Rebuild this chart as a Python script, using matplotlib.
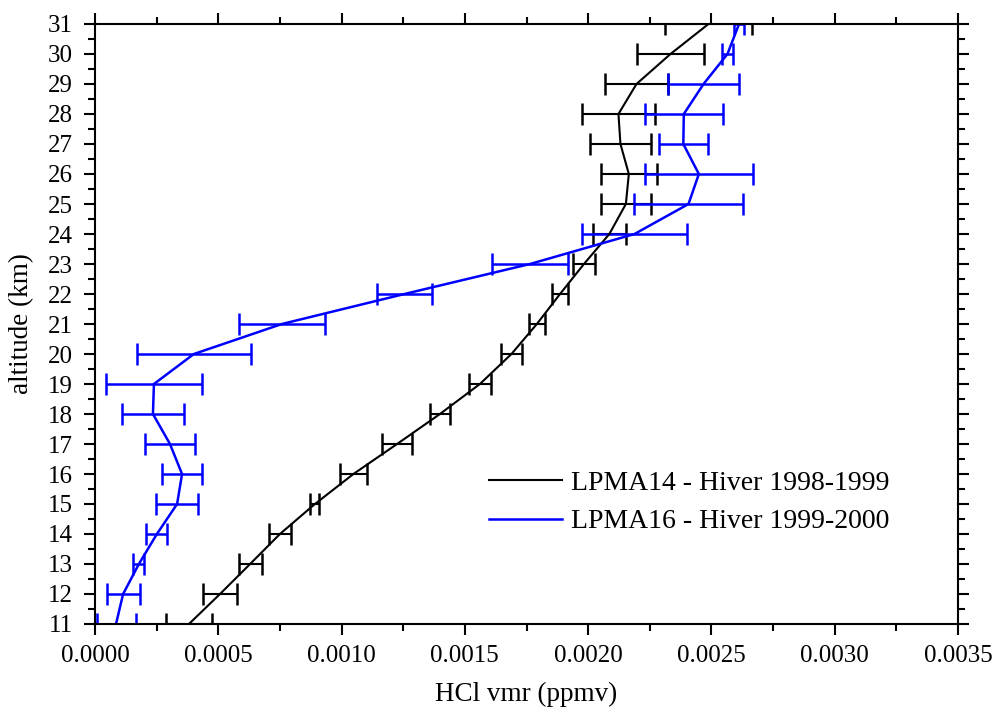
import matplotlib
matplotlib.use("Agg")
import matplotlib.pyplot as plt
from matplotlib.lines import Line2D
from matplotlib.ticker import MultipleLocator, FormatStrFormatter

plt.rcParams['font.family'] = ['Liberation Serif', 'DejaVu Serif']

altitude = [11, 12, 13, 14, 15, 16, 17, 18, 19, 20, 21, 22, 23, 24, 25, 26, 27, 28, 29, 30, 31]

lpma14 = [0.000381, 0.000507, 0.000629, 0.000750, 0.000892, 0.001048, 0.001225, 0.001399,
          0.001561, 0.001689, 0.001792, 0.001886, 0.001983, 0.002086, 0.002153, 0.002165,
          0.002131, 0.002123, 0.002196, 0.002334, 0.002488]
lpma14_err = [0.0000933, 0.0000689, 0.0000466, 0.0000446, 0.0000182, 0.0000547, 0.0000608,
              0.0000406, 0.0000446, 0.0000426, 0.0000324, 0.0000324, 0.0000446, 0.0000669,
              0.000101, 0.000114, 0.000124, 0.000148, 0.000128, 0.000136, 0.000176]

lpma16 = [0.0000852, 0.000114, 0.000178, 0.000251, 0.000333, 0.000353, 0.000304, 0.000235,
          0.000239, 0.000401, 0.000758, 0.001255, 0.001764, 0.002188, 0.002407, 0.002449,
          0.002386, 0.002388, 0.002468, 0.002565, 0.002612]
lpma16_err = [0.0000791, 0.0000669, 0.0000223, 0.0000426, 0.0000852, 0.0000811, 0.000103,
              0.000126, 0.000195, 0.000231, 0.000174, 0.000112, 0.000154, 0.000213, 0.000221,
              0.000219, 0.0000994, 0.000158, 0.000144, 0.0000223, 0.0000203]

labels = ["LPMA14 - Hiver 1998-1999", "LPMA16 - Hiver 1999-2000"]

fig = plt.figure(figsize=(9.98, 7.11), dpi=100)
ax = fig.add_axes([95/998, 1-624/711, (958-95)/998, 600/711])

ax.errorbar(lpma14, altitude, xerr=lpma14_err, color='black', lw=1.5,
            elinewidth=1.5, capsize=8, capthick=1.8)
ax.errorbar(lpma16, altitude, xerr=lpma16_err, color='#0000ff', lw=1.8,
            elinewidth=1.8, capsize=8, capthick=1.8)

ax.set_xlim(0, 0.0035)
ax.set_ylim(11, 31)
ax.xaxis.set_major_locator(MultipleLocator(0.0005))
ax.xaxis.set_minor_locator(MultipleLocator(0.00025))
ax.xaxis.set_major_formatter(FormatStrFormatter('%.4f'))
ax.yaxis.set_major_locator(MultipleLocator(1))
ax.yaxis.set_minor_locator(MultipleLocator(0.5))

ax.tick_params(which='both', direction='out', top=True, right=True, width=1.5)
ax.tick_params(which='major', length=8, labelsize=18)
ax.tick_params(axis='x', which='major', pad=7)
ax.tick_params(axis='y', which='major', pad=8)
ax.tick_params(which='minor', length=5)
for s in ax.spines.values():
    s.set_linewidth(1.5)

ax.set_xlabel("HCl vmr (ppmv)", fontsize=19.5, labelpad=11)
ax.set_ylabel("altitude (km)", fontsize=19.5, labelpad=10)

handles = [Line2D([], [], color='black', lw=1.5), Line2D([], [], color='#0000ff', lw=1.8)]
ax.legend(handles, labels, loc='upper left', bbox_to_anchor=(0.440, 0.279), frameon=False,
          fontsize=20, handlelength=2.66, handletextpad=0.3, labelspacing=0.47, borderpad=0)

fig.savefig("out.png", dpi=100)
